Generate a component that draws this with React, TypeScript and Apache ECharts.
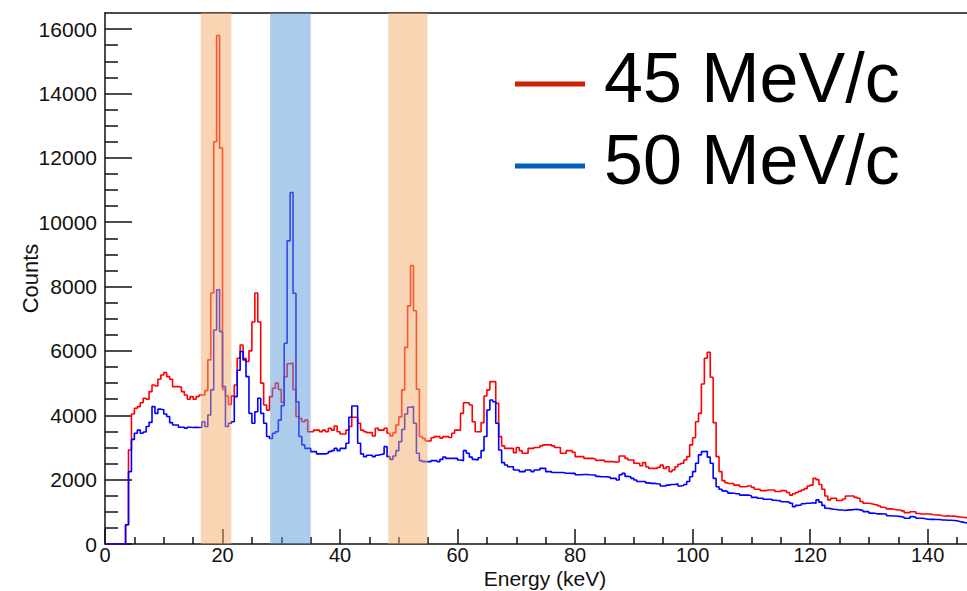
import React, { useEffect, useRef } from "react";
import * as echarts from "echarts";

// Histogram bin width (keV); bins start at 0 keV
const BIN_WIDTH = 0.5;

// 45 MeV/c spectrum, counts per 0.5 keV bin (0 .. 147 keV)
const RED_45: number[] = [
  // 0-10
  0, 0, 0, 0, 0, 0, 0, 600, 2920, 4040, 4220, 4270, 4390, 4530, 4500, 4735, 4940, 4910, 5120, 5250,
  // 10-20
  5325, 5200, 5120, 4890, 4890, 4880, 4735, 4630, 4500, 4580, 4500, 4580, 4630, 4630, 4765, 5720, 7800, 12500, 15800, 12300,
  // 20-30
  4800, 4600, 4340, 4600, 4940, 5770, 6185, 5770, 5670, 6000, 6900, 7800, 6900, 5000, 4320, 4160, 4580, 4840, 5000, 4800,
  // 30-40
  4400, 5200, 5600, 5620, 4800, 3960, 3900, 3800, 3850, 3490, 3490, 3540, 3540, 3490, 3540, 3490, 3595, 3540, 3667, 3490,
  // 40-50
  3420, 3420, 3540, 3650, 3940, 3940, 3750, 3540, 3490, 3460, 3460, 3357, 3595, 3540, 3540, 3595, 3440, 3360, 3460, 3700,
  // 50-60
  3950, 4790, 6110, 7400, 8650, 7250, 4810, 3340, 3280, 3200, 3200, 3300, 3335, 3335, 3290, 3335, 3335, 3310, 3440, 3540,
  // 60-70
  3540, 4060, 4390, 4390, 4320, 3800, 3490, 3490, 3770, 4600, 4790, 5045, 5045, 4370, 3335, 3050, 2970, 2970, 2970, 2840,
  // 70-80
  3000, 2900, 2820, 2820, 2970, 2970, 3000, 3000, 3050, 3080, 3080, 3080, 3050, 3000, 3000, 2820, 2820, 2900, 2900, 2850,
  // 80-90
  2715, 2715, 2715, 2660, 2660, 2660, 2640, 2600, 2610, 2600, 2560, 2560, 2560, 2540, 2560, 2735, 2735, 2660, 2610, 2610,
  // 90-100
  2510, 2510, 2430, 2530, 2400, 2350, 2350, 2350, 2380, 2450, 2350, 2400, 2250, 2300, 2400, 2480, 2510, 2610, 2715, 3080,
  // 100-110
  3300, 3800, 4060, 4970, 5770, 5960, 5180, 3770, 2715, 2250, 1970, 1905, 1880, 1880, 1830, 1830, 1780, 1780, 1800, 1800,
  // 110-120
  1760, 1700, 1700, 1660, 1660, 1680, 1680, 1680, 1630, 1630, 1660, 1650, 1600, 1520, 1560, 1600, 1640, 1680, 1720, 1800,
  // 120-130
  1830, 2040, 2000, 1850, 1700, 1490, 1370, 1420, 1420, 1350, 1350, 1400, 1490, 1490, 1490, 1450, 1420, 1320, 1265, 1265,
  // 130-140
  1250, 1230, 1210, 1180, 1140, 1120, 1090, 1090, 1070, 1055, 1055, 1030, 975, 975, 1000, 1000, 950, 930, 930, 930,
  // 140-147
  930, 910, 900, 900, 880, 870, 880, 860, 870, 850, 840, 830, 820, 810,
];

// 50 MeV/c spectrum, counts per 0.5 keV bin (0 .. 147 keV)
const BLUE_50: number[] = [
  // 0-10
  0, 0, 0, 0, 0, 0, 0, 600, 2250, 3250, 3440, 3540, 3440, 3480, 3650, 3780, 4270, 4060, 4190, 4170,
  // 10-20
  4040, 3960, 3770, 3700, 3700, 3630, 3630, 3600, 3630, 3620, 3630, 3620, 3630, 3800, 3650, 4010, 4790, 6650, 7900, 6600,
  // 20-30
  4890, 3650, 3750, 3800, 4580, 5400, 5980, 5720, 5200, 4060, 3750, 4110, 4530, 4060, 3750, 3340, 3280, 3440, 3490, 3850,
  // 30-40
  4300, 6240, 9420, 10920, 7790, 4420, 3340, 3080, 2970, 2970, 2870, 2870, 2800, 2800, 2800, 2820, 2870, 2900, 2970, 2900,
  // 40-50
  2970, 2970, 3130, 3940, 4290, 4290, 3130, 2800, 2715, 2760, 2760, 2715, 2760, 2780, 2800, 3025, 2715, 2630, 2735, 2900,
  // 50-60
  3180, 3560, 4040, 4250, 4270, 3750, 2820, 2590, 2560, 2560, 2560, 2590, 2590, 2560, 2630, 2700, 2660, 2660, 2660, 2660,
  // 60-70
  2610, 2590, 2900, 2820, 2700, 2630, 2610, 2680, 2900, 3340, 4165, 4475, 4420, 3750, 2920, 2530, 2455, 2400, 2400, 2300,
  // 70-80
  2300, 2250, 2250, 2300, 2300, 2250, 2300, 2300, 2350, 2350, 2250, 2250, 2220, 2220, 2220, 2220, 2200, 2200, 2195, 2195,
  // 80-90
  2150, 2150, 2160, 2160, 2150, 2145, 2145, 2100, 2090, 2090, 2090, 2070, 2040, 2040, 1990, 2150, 2195, 2100, 2090, 2040,
  // 90-100
  1990, 1940, 1940, 1940, 1900, 1885, 1885, 1870, 1860, 1800, 1800, 1830, 1850, 1850, 1870, 1800, 1820, 1850, 1940, 2090,
  // 100-110
  2250, 2510, 2770, 2870, 2880, 2700, 2510, 2040, 1780, 1700, 1650, 1630, 1580, 1575, 1560, 1560, 1520, 1520, 1520, 1500,
  // 110-120
  1450, 1450, 1420, 1420, 1390, 1390, 1390, 1360, 1350, 1340, 1315, 1315, 1300, 1265, 1160, 1200, 1210, 1250, 1265, 1265,
  // 120-130
  1280, 1265, 1370, 1300, 1200, 1110, 1100, 1080, 1070, 1055, 1055, 1040, 1060, 1060, 1070, 1080, 1060, 1040, 1005, 1005,
  // 130-140
  960, 955, 935, 935, 930, 930, 880, 870, 870, 860, 850, 830, 800, 800, 850, 830, 800, 800, 790, 770,
  // 140-147
  765, 765, 760, 760, 745, 745, 740, 740, 730, 720, 700, 680, 660, 650,
];

// Shaded energy windows (keV)
const ORANGE_BANDS: [number, number][] = [
  [16.3, 21.5],
  [48.2, 54.9],
];
const BLUE_BANDS: [number, number][] = [[28.1, 35.0]];

// Axis ranges and ticks
const X_MIN = 0;
const X_MAX = 146.7;
const Y_MIN = 0;
const Y_MAX = 16500;
const X_MAJOR = [0, 20, 40, 60, 80, 100, 120, 140];
const X_MINOR = [5, 10, 15, 25, 30, 35, 45, 50, 55, 65, 70, 75, 85, 90, 95, 105, 110, 115, 125, 130, 135, 145];
const Y_MAJOR = [0, 2000, 4000, 6000, 8000, 10000, 12000, 14000, 16000];
const Y_MINOR = [
  500, 1000, 1500, 2500, 3000, 3500, 4500, 5000, 5500, 6500, 7000, 7500, 8500, 9000, 9500,
  10500, 11000, 11500, 12500, 13000, 13500, 14500, 15000, 15500,
];

const SERIES_NAMES = ["45 MeV/c", "50 MeV/c"];
const X_TITLE = "Energy (keV)";
const Y_TITLE = "Counts";

const FONT = '"Liberation Sans", Arial, Helvetica, sans-serif';

function toSteps(vals: number[]): [number, number][] {
  const pts: [number, number][] = vals.map((v, i) => [i * BIN_WIDTH, v]);
  pts.push([vals.length * BIN_WIDTH, vals[vals.length - 1]]);
  return pts;
}

const plain = (v: number) => String(v);

export default function App() {
  const ref = useRef<HTMLDivElement>(null);

  useEffect(() => {
    if (!ref.current) return;
    const chart = echarts.init(ref.current, undefined, { renderer: "svg" });

    const axisLineStyle = { color: "#111", width: 1.5 };
    const tickStyle = { color: "#111", width: 1.5 };

    const bandAreas = [
      ...ORANGE_BANDS.map(([a, b]) => [
        { xAxis: a, itemStyle: { color: "rgba(243,172,105,0.5)" } },
        { xAxis: b },
      ]),
      ...BLUE_BANDS.map(([a, b]) => [
        { xAxis: a, itemStyle: { color: "rgba(92,152,215,0.5)" } },
        { xAxis: b },
      ]),
    ];

    chart.setOption({
      animation: false,
      backgroundColor: "#fff",
      grid: {
        left: 105,
        right: 0,
        top: 13,
        bottom: 47,
        containLabel: false,
        outerBoundsMode: "none",
      },
      xAxis: [
        {
          type: "value",
          min: X_MIN,
          max: X_MAX,
          position: "bottom",
          axisLine: { show: true, onZero: false, lineStyle: axisLineStyle },
          axisTick: { show: true, inside: true, length: 15, customValues: X_MAJOR, lineStyle: tickStyle },
          axisLabel: {
            show: true,
            customValues: X_MAJOR,
            formatter: plain,
            fontSize: 20,
            lineHeight: 18,
            color: "#111",
            fontFamily: FONT,
            margin: 2,
          },
          splitLine: { show: false },
          name: X_TITLE,
          nameLocation: "middle",
          nameGap: 24,
          nameMoveOverlap: false,
          nameTextStyle: {
            fontSize: 21,
            lineHeight: 20,
            color: "#111",
            fontFamily: FONT,
            padding: [0, 0, 0, 18],
          },
        },
        {
          type: "value",
          min: X_MIN,
          max: X_MAX,
          position: "bottom",
          axisLine: { show: false, onZero: false },
          axisTick: { show: true, inside: true, length: 7, customValues: X_MINOR, lineStyle: tickStyle },
          axisLabel: { show: false },
          splitLine: { show: false },
        },
        {
          type: "value",
          min: X_MIN,
          max: X_MAX,
          position: "top",
          axisLine: { show: true, onZero: false, lineStyle: axisLineStyle },
          axisTick: { show: false },
          axisLabel: { show: false },
          splitLine: { show: false },
        },
      ],
      yAxis: [
        {
          type: "value",
          min: Y_MIN,
          max: Y_MAX,
          position: "left",
          axisLine: { show: true, onZero: false, lineStyle: axisLineStyle },
          axisTick: { show: true, inside: true, length: 27, customValues: Y_MAJOR, lineStyle: tickStyle },
          axisLabel: {
            show: true,
            customValues: Y_MAJOR,
            formatter: plain,
            fontSize: 21,
            color: "#111",
            fontFamily: FONT,
            margin: 8,
          },
          splitLine: { show: false },
          name: Y_TITLE,
          nameLocation: "middle",
          nameGap: 64,
          nameMoveOverlap: false,
          nameTextStyle: { fontSize: 22, color: "#111", fontFamily: FONT },
        },
        {
          type: "value",
          min: Y_MIN,
          max: Y_MAX,
          position: "left",
          axisLine: { show: false, onZero: false },
          axisTick: { show: true, inside: true, length: 13, customValues: Y_MINOR, lineStyle: tickStyle },
          axisLabel: { show: false },
          splitLine: { show: false },
        },
      ],
      series: [
        {
          type: "line",
          name: SERIES_NAMES[0],
          data: toSteps(RED_45),
          step: "end",
          symbol: "none",
          silent: true,
          z: 2,
          lineStyle: { color: "#ff0000", width: 1.6 },
          itemStyle: { color: "#ff0000" },
        },
        {
          type: "line",
          name: SERIES_NAMES[1],
          data: toSteps(BLUE_50),
          step: "end",
          symbol: "none",
          silent: true,
          z: 2,
          lineStyle: { color: "#0000ff", width: 1.6 },
          itemStyle: { color: "#0000ff" },
          markArea: {
            silent: true,
            z: 5,
            data: bandAreas,
          },
        },
      ],
      graphic: [
        {
          type: "line",
          shape: { x1: 515, y1: 84, x2: 585, y2: 84 },
          style: { stroke: "#cc2200", lineWidth: 5 },
        },
        {
          type: "text",
          x: 604,
          y: 78,
          style: {
            text: SERIES_NAMES[0],
            font: `70px ${FONT}`,
            fill: "#000",
            verticalAlign: "middle",
          },
        },
        {
          type: "line",
          shape: { x1: 515, y1: 166, x2: 585, y2: 166 },
          style: { stroke: "#0060c0", lineWidth: 5 },
        },
        {
          type: "text",
          x: 604,
          y: 160,
          style: {
            text: SERIES_NAMES[1],
            font: `70px ${FONT}`,
            fill: "#000",
            verticalAlign: "middle",
          },
        },
      ],
    });

    return () => chart.dispose();
  }, []);

  return (
    <div
      ref={ref}
      style={{ position: "fixed", left: 0, top: 0, width: 967, height: 591 }}
    />
  );
}
